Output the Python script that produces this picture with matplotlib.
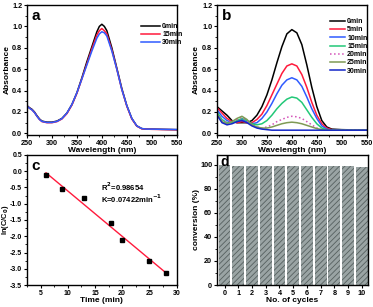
import numpy as np
import matplotlib
matplotlib.use('Agg')
import matplotlib.pyplot as plt
from matplotlib.ticker import MultipleLocator, FormatStrFormatter

plt.rcParams['font.family'] = ['Liberation Sans', 'DejaVu Sans']
plt.rcParams['font.weight'] = 'bold'
plt.rcParams['hatch.linewidth'] = 0.6

# ---- panel a: UV-vis, stability ----
wl_a = [250, 255, 260, 265, 270, 275, 280, 290, 300, 310, 320, 330, 340, 350, 360,
        370, 380, 390, 395, 400, 405, 410, 420, 430, 440, 450, 460, 470, 480, 490, 500, 520, 550]
abs_a_0 = [0.26, 0.24, 0.225, 0.20, 0.165, 0.135, 0.115, 0.105, 0.105, 0.115, 0.14, 0.19, 0.27, 0.38, 0.52,
           0.67, 0.81, 0.95, 1.0, 1.02, 1.0, 0.96, 0.80, 0.61, 0.42, 0.26, 0.14, 0.07, 0.045, 0.04, 0.04,
           0.038, 0.035]
abs_a_15 = [0.255, 0.235, 0.22, 0.195, 0.16, 0.13, 0.11, 0.10, 0.10, 0.11, 0.135, 0.185, 0.265, 0.375, 0.51,
            0.65, 0.79, 0.92, 0.96, 0.98, 0.96, 0.93, 0.78, 0.60, 0.41, 0.255, 0.135, 0.068, 0.043, 0.04,
            0.038, 0.036, 0.034]
abs_a_30 = [0.255, 0.235, 0.22, 0.195, 0.16, 0.13, 0.112, 0.102, 0.102, 0.112, 0.138, 0.19, 0.27, 0.38, 0.51,
            0.64, 0.77, 0.89, 0.93, 0.95, 0.94, 0.91, 0.77, 0.60, 0.41, 0.26, 0.14, 0.07, 0.045, 0.04,
            0.04, 0.038, 0.036]
labels_a = ['0min', '15min', '30min']
colors_a = ['black', '#ff1a3c', '#2f5bff']

# ---- panel b: UV-vis, degradation ----
wl_b = [250, 260, 270, 280, 290, 300, 310, 320, 330, 340, 350, 360, 370, 380, 390,
        400, 410, 420, 430, 440, 450, 460, 470, 480, 500, 550]
abs_b = {
    '0min':  [0.25, 0.21, 0.17, 0.12, 0.10, 0.10, 0.10, 0.12, 0.17, 0.25, 0.36, 0.50, 0.66, 0.81, 0.93,
              0.97, 0.94, 0.83, 0.64, 0.43, 0.25, 0.12, 0.06, 0.04, 0.035, 0.03],
    '5min':  [0.24, 0.19, 0.14, 0.11, 0.10, 0.11, 0.10, 0.10, 0.13, 0.18, 0.26, 0.36, 0.46, 0.56, 0.63,
              0.65, 0.63, 0.55, 0.43, 0.29, 0.17, 0.09, 0.05, 0.035, 0.03, 0.03],
    '10min': [0.22, 0.16, 0.12, 0.10, 0.11, 0.13, 0.11, 0.09, 0.10, 0.14, 0.20, 0.28, 0.37, 0.45, 0.50,
              0.52, 0.50, 0.44, 0.34, 0.23, 0.14, 0.07, 0.04, 0.03, 0.03, 0.03],
    '15min': [0.20, 0.13, 0.10, 0.10, 0.12, 0.14, 0.12, 0.09, 0.08, 0.09, 0.12, 0.17, 0.23, 0.28, 0.32,
              0.34, 0.33, 0.29, 0.22, 0.15, 0.09, 0.05, 0.035, 0.03, 0.03, 0.03],
    '20min': [0.19, 0.12, 0.10, 0.11, 0.13, 0.15, 0.12, 0.08, 0.06, 0.05, 0.06, 0.08, 0.11, 0.13, 0.15,
              0.16, 0.155, 0.14, 0.11, 0.08, 0.05, 0.035, 0.03, 0.03, 0.03, 0.03],
    '25min': [0.18, 0.11, 0.09, 0.11, 0.14, 0.16, 0.13, 0.08, 0.06, 0.05, 0.05, 0.06, 0.075, 0.09, 0.10,
              0.105, 0.10, 0.09, 0.075, 0.06, 0.045, 0.035, 0.03, 0.03, 0.03, 0.03],
    '30min': [0.17, 0.10, 0.08, 0.09, 0.11, 0.12, 0.10, 0.07, 0.05, 0.04, 0.035, 0.03, 0.03, 0.03, 0.03,
              0.03, 0.03, 0.03, 0.03, 0.03, 0.03, 0.03, 0.03, 0.03, 0.03, 0.03],
}
colors_b = ['black', '#ff1a3c', '#2f5bff', '#22c878', '#d452b8', '#7f9a55', '#1426c8']
styles_b = ['-', '-', '-', '-', ':', '-', '-']

# ---- panel c: kinetics ----
time_c = [6, 9, 13, 18, 20, 25, 28]
lnc_c = [-0.13, -0.54, -0.82, -1.60, -2.12, -2.75, -3.12]

# ---- panel d: recycling ----
cycles = list(range(11))
conversion = [100, 98.9, 98.9, 98.9, 98.9, 98.9, 98.9, 98.9, 98.9, 98.9, 98.4]

fig = plt.figure(figsize=(3.73, 3.07), dpi=100)
W, H = 373.0, 307.0


def box(l, t, r, b):
    return fig.add_axes([l / W, 1 - b / H, (r - l) / W, (b - t) / H])


def style(ax, ylab_x, size=5.2):
    for s in ax.spines.values():
        s.set_linewidth(1.0)
    ax.tick_params(which='major', direction='out', length=2.5, width=0.8, labelsize=size, pad=1.0)
    ax.tick_params(which='minor', direction='out', length=1.5, width=0.6)
    for lab in ax.get_xticklabels() + ax.get_yticklabels():
        lab.set_fontweight('bold')
    # y label anchored by its right edge (rotated text)
    ax.yaxis.set_label_coords(ylab_x, 0.5)


ax_a = box(27, 5, 176.7, 135)
ax_b = box(217, 5, 366.7, 135)
ax_c = box(27, 155, 176.5, 285)
ax_d = box(217, 155, 368, 285)

# a
for y, lab, c in zip([abs_a_0, abs_a_15, abs_a_30], labels_a, colors_a):
    ax_a.plot(wl_a, y, color=c, lw=1.1, label=lab)
# b
for (lab, y), c, ls in zip(abs_b.items(), colors_b, styles_b):
    ax_b.plot(wl_b, y, color=c, lw=1.1, ls=ls, label=lab)

for ax, letter in [(ax_a, 'a'), (ax_b, 'b')]:
    ax.set_xlim(250, 550)
    ax.set_ylim(-0.015, 1.2)
    ax.xaxis.set_major_locator(MultipleLocator(50))
    ax.xaxis.set_minor_locator(MultipleLocator(25))
    ax.yaxis.set_major_locator(MultipleLocator(0.2))
    ax.yaxis.set_minor_locator(MultipleLocator(0.1))
    ax.yaxis.set_major_formatter(FormatStrFormatter('%.1f'))
    ax.set_xlabel('Wavelength (nm)', fontsize=6, fontweight='bold', labelpad=0)
    ax.set_ylabel('Absorbance', fontsize=6, fontweight='bold')
    ax.text(0.03, 0.97, letter, transform=ax.transAxes, fontsize=11, fontweight='bold',
            va='top', ha='left')

style(ax_a, -0.105)
style(ax_b, -0.115)

ax_a.legend(loc='upper left', bbox_to_anchor=(0.74, 0.885), frameon=False,
            handlelength=2.7, handletextpad=0.3, labelspacing=0.12, borderpad=0,
            prop={'weight': 'bold', 'size': 5})
ax_b.legend(loc='upper left', bbox_to_anchor=(0.73, 0.925), frameon=False,
            handlelength=2.2, handletextpad=0.3, labelspacing=0.18, borderpad=0,
            prop={'weight': 'bold', 'size': 5})

# c
k, b0 = np.polyfit(time_c, lnc_c, 1)
xf = np.array([time_c[0], time_c[-1]])
ax_c.plot(xf, k * xf + b0, color='#ff1a3c', lw=1.0)
ax_c.plot(time_c, lnc_c, 's', color='black', ms=2.2)
ax_c.set_xlim(2.5, 30)
ax_c.set_ylim(-3.5, 0.5)
ax_c.xaxis.set_major_locator(MultipleLocator(5))
ax_c.xaxis.set_minor_locator(MultipleLocator(2.5))
ax_c.yaxis.set_major_locator(MultipleLocator(0.5))
ax_c.yaxis.set_minor_locator(MultipleLocator(0.25))
ax_c.yaxis.set_major_formatter(FormatStrFormatter('%.1f'))
ax_c.set_xlabel('Time (min)', fontsize=6, fontweight='bold', labelpad=0)
ax_c.set_ylabel('ln(C/C$_\\mathbf{0}$)', fontsize=5.4, fontweight='bold')
ax_c.text(16.2, -0.49, 'R$^\\mathbf{2}$=0.98654', fontsize=5.5, fontweight='bold', va='center')
ax_c.text(16.2, -0.86, 'K=0.07422min$^\\mathbf{-1}$', fontsize=5.5, fontweight='bold', va='center')
ax_c.text(0.03, 0.97, 'c', transform=ax_c.transAxes, fontsize=11, fontweight='bold',
          va='top', ha='left')
style(ax_c, -0.108, size=5.0)

# d
ax_d.bar(cycles, conversion, width=0.86, color='#9aa4a4', edgecolor='#56605f',
         hatch='//////', linewidth=0)
ax_d.set_xlim(-0.55, 10.45)
ax_d.set_ylim(0, 108)
ax_d.set_xticks(cycles)
ax_d.yaxis.set_major_locator(MultipleLocator(20))
ax_d.yaxis.set_minor_locator(MultipleLocator(10))
ax_d.set_xlabel('No. of cycles', fontsize=6, fontweight='bold', labelpad=0)
ax_d.set_ylabel('conversion (%)', fontsize=6, fontweight='bold')
ax_d.text(0.02, 1.0, 'd', transform=ax_d.transAxes, fontsize=10, fontweight='bold',
          va='top', ha='left')
style(ax_d, -0.115)

fig.savefig('out.png', dpi=100)
